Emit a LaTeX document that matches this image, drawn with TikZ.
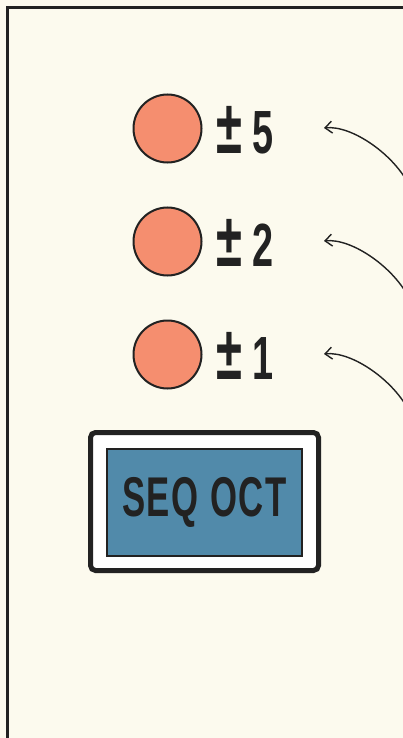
\documentclass[tikz,border=0pt]{standalone}
\usepackage{fontspec}
\newfontfamily\panelfont[FakeStretch=0.62, LetterSpace=3]{Liberation Sans}
\usepackage{tikz}
\usetikzlibrary{positioning, arrows.meta}

\definecolor{paper}{HTML}{FCFAEE}
\definecolor{ink}{HTML}{222222}
\definecolor{salmon}{HTML}{F58E6F}
\definecolor{steel}{HTML}{518AAA}

% bigger plus-minus sign in front of each range digit
\newcommand{\pmsign}{{\fontsize{76}{76}\selectfont ±}\kern10pt}

\tikzstyle{knob} = [circle, minimum size=68pt, inner sep=0pt, draw=ink, line width=2pt, fill=salmon]
\tikzstyle{octlabel} = [inner sep=0pt, anchor=west, text=ink, font=\panelfont\bfseries\fontsize{61}{61}\selectfont]
\tikzstyle{pointer} = [draw=ink, line width=1.4pt, -{Straight Barb[length=7pt,width=12pt]}]
\tikzstyle{frame} = [rectangle, rounded corners=5pt, draw=ink, line width=5pt, fill=white, minimum width=228pt, minimum height=138pt]
\tikzstyle{keycap} = [rectangle, draw=ink, line width=2pt, fill=steel, minimum width=195pt, minimum height=107pt, text=ink, font=\panelfont\bfseries\fontsize{56}{56}\selectfont]

\begin{document}
\begin{tikzpicture}[x=1pt, y=-1pt, node distance=113pt]

        \useasboundingbox (0,0) rectangle (403,738);
        \fill[paper] (0,0) rectangle (403,738);
        \clip (0,0) rectangle (403,738);

        % panel edge
        \draw[ink, line width=3pt] (7.5,750) -- (7.5,7.5) -- (415,7.5);

        % octave knobs
        \node (dot5) [knob] at (167.5,128.5) {};
        \node (dot2) [knob, below of=dot5] {};
        \node (dot1) [knob, below of=dot2] {};

        \node (lbl5) [octlabel] at (216,130) {\pmsign 5};
        \node (lbl2) [octlabel] at (216,243) {\pmsign 2};
        \node (lbl1) [octlabel] at (216,356) {\pmsign 1};

        % sequencer octave button
        \node (seqframe) [frame] at (204.5,501.5) {};
        \node (seqkey) [keycap] at (204.5,502.5) {SEQ OCT};

        % leader lines
        \coordinate (tip5) at (324,128);
        \coordinate (tip2) at (324,241);
        \coordinate (tip1) at (324,354);
        \coordinate (src5) at (410,187);
        \coordinate (src2) at (410,300);
        \coordinate (src1) at (410,413);

        \draw [pointer] (src5) .. controls +(-15,-32) and +(28,-3) .. (tip5);
        \draw [pointer] (src2) .. controls +(-15,-32) and +(28,-3) .. (tip2);
        \draw [pointer] (src1) .. controls +(-15,-32) and +(28,-3) .. (tip1);

    \end{tikzpicture}
\end{document}
